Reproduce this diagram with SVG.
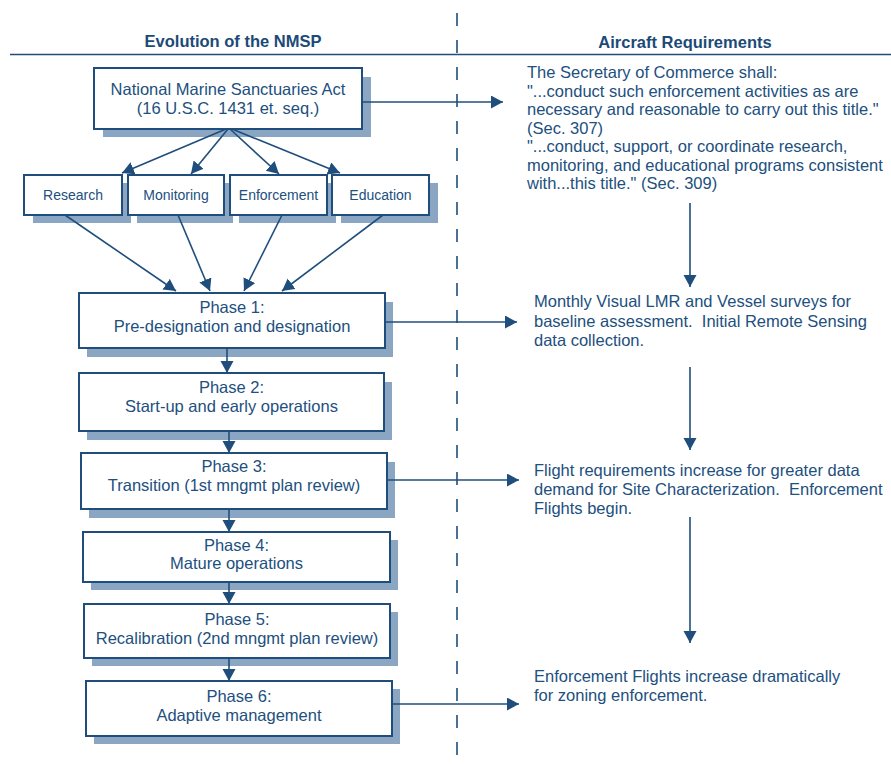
<svg xmlns="http://www.w3.org/2000/svg" width="891" height="764" viewBox="0 0 891 764">
<style>
text{font-family:"Liberation Sans",Arial,sans-serif;fill:#214f7e;font-size:16.5px}
.h{font-weight:bold;font-size:16.5px;fill:#1c4a78}
.c{text-anchor:middle}
.s{font-size:14px}
.p{white-space:pre}
.box{fill:#fff;stroke:#1f4e7c;stroke-width:2}
.sh{fill:#8aa6c2}
.ln{stroke:#1f4e7c;stroke-width:1.6;fill:none}
.con{stroke:#1f4e7c;stroke-width:1.6;fill:none;marker-end:url(#ah)}
</style>
<defs>
<marker id="ah" markerUnits="userSpaceOnUse" markerWidth="13" markerHeight="14" refX="12" refY="6.5" orient="auto">
<path d="M0,0 L12,6.5 L0,13 z" fill="#1f4e7c"/>
</marker>
</defs>
<rect width="891" height="764" fill="#fff"/>
<g id="headers">
<text class="h c" x="233" y="47">Evolution of the NMSP</text>
<text class="h c" x="685" y="48">Aircraft Requirements</text>
<line class="ln" x1="10" y1="54.5" x2="891" y2="54.5"/>
<line x1="457" y1="13" x2="457" y2="764" stroke="#1f4e7c" stroke-width="1.6" stroke-dasharray="13 14"/>
</g>
<g id="nmsa">
<rect class="sh" x="103" y="77" width="268" height="60"/>
<rect class="box" x="94" y="68" width="268" height="61"/>
<text class="c" x="228" y="95">National Marine Sanctuaries Act</text>
<text class="c" x="228" y="114">(16 U.S.C. 1431 et. seq.)</text>
</g>
<g id="research">
<rect class="sh" x="33" y="183" width="98" height="40"/>
<rect class="box" x="24" y="175" width="98" height="40"/>
<text class="c s" x="73" y="200">Research</text>
</g>
<g id="monitoring">
<rect class="sh" x="137" y="183" width="96" height="40"/>
<rect class="box" x="128" y="175" width="96" height="40"/>
<text class="c s" x="176" y="200">Monitoring</text>
</g>
<g id="enforcement">
<rect class="sh" x="239" y="183" width="97" height="40"/>
<rect class="box" x="230" y="175" width="97" height="40"/>
<text class="c s" x="278.5" y="200">Enforcement</text>
</g>
<g id="education">
<rect class="sh" x="341" y="183" width="97" height="40"/>
<rect class="box" x="332" y="175" width="97" height="40"/>
<text class="c s" x="380.5" y="200">Education</text>
</g>
<g id="phase1">
<rect class="sh" x="87" y="302" width="306" height="55"/>
<rect class="box" x="79" y="293" width="306" height="55"/>
<text class="c" x="232" y="313">Phase 1:</text>
<text class="c" x="232" y="332">Pre-designation and designation</text>
</g>
<g id="phase2">
<rect class="sh" x="87" y="382" width="305" height="58"/>
<rect class="box" x="79" y="373" width="305" height="58"/>
<text class="c" x="231.5" y="393">Phase 2:</text>
<text class="c" x="231.5" y="412">Start-up and early operations</text>
</g>
<g id="phase3">
<rect class="sh" x="89" y="462" width="306" height="56"/>
<rect class="box" x="81" y="453" width="306" height="56"/>
<text class="c" x="234" y="472">Phase 3:</text>
<text class="c" x="234" y="491">Transition (1st mngmt plan review)</text>
</g>
<g id="phase4">
<rect class="sh" x="91" y="540" width="307" height="50"/>
<rect class="box" x="83" y="532" width="307" height="50"/>
<text class="c" x="236.5" y="551">Phase 4:</text>
<text class="c" x="236.5" y="569">Mature operations</text>
</g>
<g id="phase5">
<rect class="sh" x="92" y="612" width="306" height="54"/>
<rect class="box" x="84" y="604" width="306" height="54"/>
<text class="c" x="237" y="625">Phase 5:</text>
<text class="c" x="237" y="644">Recalibration (2nd mngmt plan review)</text>
</g>
<g id="phase6">
<rect class="sh" x="94" y="689" width="306" height="55"/>
<rect class="box" x="86" y="681" width="306" height="55"/>
<text class="c" x="239" y="702">Phase 6:</text>
<text class="c" x="239" y="721">Adaptive management</text>
</g>
<g id="req1">
<text x="527" y="78">The Secretary of Commerce shall:</text>
<text x="527" y="96.5">"...conduct such enforcement activities as are</text>
<text x="527" y="115">necessary and reasonable to carry out this title."</text>
<text x="527" y="133.5">(Sec. 307)</text>
<text x="527" y="152">"...conduct, support, or coordinate research,</text>
<text x="527" y="170.5">monitoring, and educational programs consistent</text>
<text x="527" y="189">with...this title." (Sec. 309)</text>
</g>
<g id="req2">
<text x="534" y="307">Monthly Visual LMR and Vessel surveys for</text>
<text class="p" xml:space="preserve" x="534" y="326.5">baseline assessment.  Initial Remote Sensing</text>
<text x="534" y="346">data collection.</text>
</g>
<g id="req3">
<text x="534" y="476">Flight requirements increase for greater data</text>
<text class="p" xml:space="preserve" x="534" y="495">demand for Site Characterization.  Enforcement</text>
<text x="534" y="514">Flights begin.</text>
</g>
<g id="req4">
<text x="534" y="682">Enforcement Flights increase dramatically</text>
<text x="534" y="701">for zoning enforcement.</text>
</g>
<g id="connectors">
<line class="con" x1="226" y1="129" x2="122" y2="173"/>
<line class="con" x1="228" y1="129" x2="191" y2="174"/>
<line class="con" x1="230" y1="129" x2="279" y2="174"/>
<line class="con" x1="232" y1="129" x2="340" y2="173"/>
<line class="con" x1="65" y1="215" x2="176" y2="291"/>
<line class="con" x1="178" y1="215" x2="210" y2="291"/>
<line class="con" x1="282" y1="215" x2="244" y2="291"/>
<line class="con" x1="383" y1="215" x2="282" y2="291"/>
<line class="con" x1="227" y1="348" x2="227" y2="373"/>
<line class="con" x1="229" y1="431" x2="229" y2="453"/>
<line class="con" x1="229" y1="509" x2="229" y2="532"/>
<line class="con" x1="229" y1="582" x2="229" y2="604"/>
<line class="con" x1="229" y1="658" x2="229" y2="681"/>
<line class="con" x1="362" y1="102" x2="503" y2="102"/>
<line class="con" x1="385" y1="322" x2="517" y2="322"/>
<line class="con" x1="387" y1="480" x2="519" y2="480"/>
<line class="con" x1="392" y1="704" x2="519" y2="704"/>
<line class="con" x1="690" y1="203" x2="690" y2="287"/>
<line class="con" x1="690" y1="367" x2="690" y2="450"/>
<line class="con" x1="690" y1="517" x2="690" y2="643"/>
</g>
</svg>
